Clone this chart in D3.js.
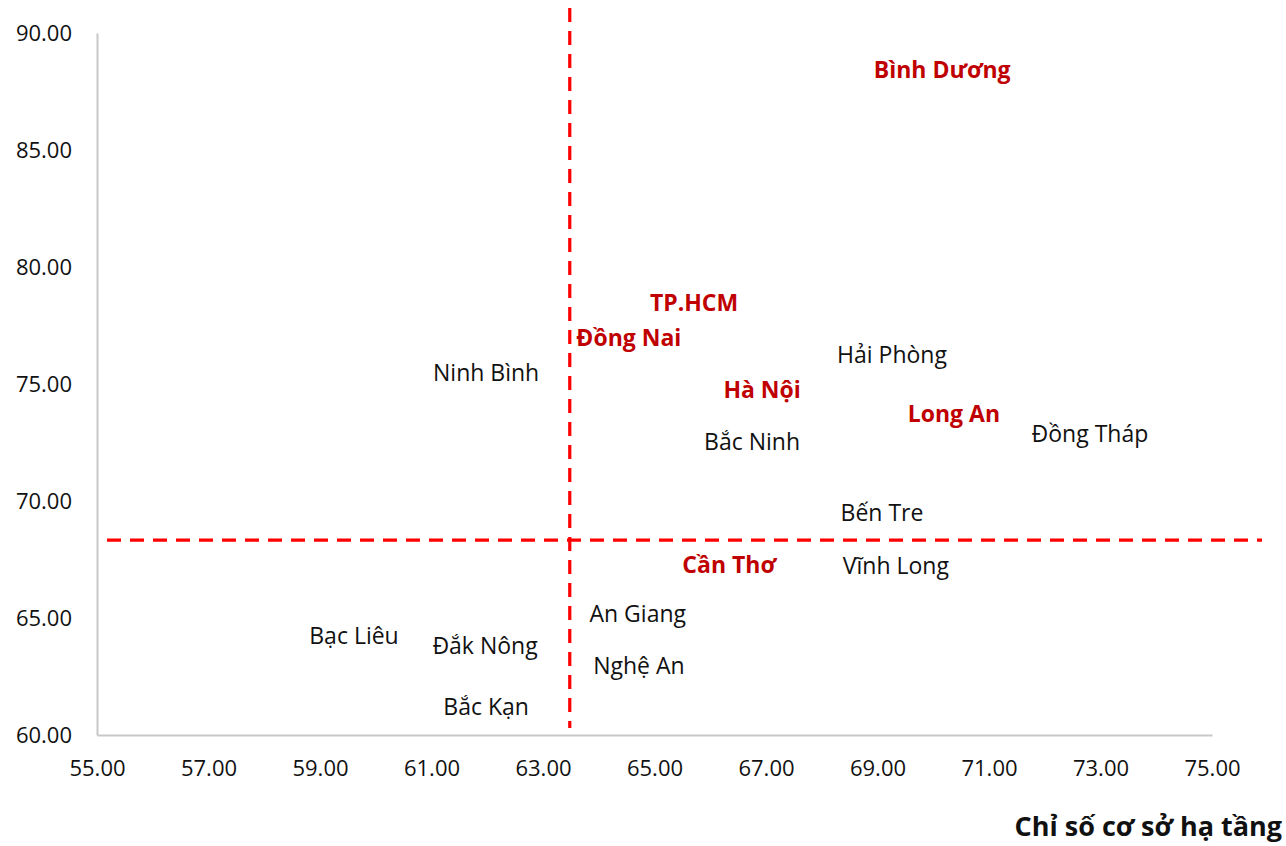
<!DOCTYPE html>
<html>
<head>
<meta charset="utf-8">
<script src="https://cdn.jsdelivr.net/npm/d3@7"></script>
<style>
  html, body { margin: 0; padding: 0; background: #fff; }
  svg { display: block; }
</style>
</head>
<body>
<svg id="chart" width="1286" height="846"></svg>
<script>
// Provinces: infrastructure index (x) vs second index (y)
const provinces = ["Bình Dương", "TP.HCM", "Đồng Nai", "Ninh Bình", "Hải Phòng", "Hà Nội",
  "Long An", "Đồng Tháp", "Bắc Ninh", "Bến Tre", "Cần Thơ", "Vĩnh Long",
  "An Giang", "Nghệ An", "Bạc Liêu", "Đắk Nông", "Bắc Kạn"];
const xValues = [70.16, 65.71, 64.54, 61.98, 69.26, 66.93,
  70.37, 72.81, 66.75, 69.08, 66.34, 69.33,
  64.70, 64.72, 59.61, 61.96, 61.98];
const yValues = [88.42, 78.46, 76.97, 75.47, 76.24, 74.74,
  73.72, 72.86, 72.52, 69.49, 67.26, 67.22,
  65.17, 62.95, 64.23, 63.80, 61.20];
const highlighted = ["Bình Dương", "TP.HCM", "Đồng Nai", "Hà Nội", "Long An", "Cần Thơ"];

// Average lines
const xAverage = 63.48;
const yAverage = 68.33;

const xTicks = [55, 57, 59, 61, 63, 65, 67, 69, 71, 73, 75];
const yTicks = [60, 65, 70, 75, 80, 85, 90];
const xTitle = "Chỉ số cơ sở hạ tầng";

const svg = d3.select("#chart");
const plotLeft = 97, plotRight = 1212, plotTop = 33, plotBottom = 735;

const x = d3.scaleLinear().domain([55, 75]).range([plotLeft, plotRight]);
const y = d3.scaleLinear().domain([60, 90]).range([plotBottom, plotTop]);

const fontFamily = "'Open Sans', 'Noto Sans', sans-serif";

// Axes
const xAxis = svg.append("g")
  .attr("transform", `translate(0,${plotBottom})`)
  .call(d3.axisBottom(x).tickValues(xTicks).tickSize(0).tickPadding(25)
    .tickFormat(d3.format(".2f")));
const yAxis = svg.append("g")
  .attr("transform", `translate(${plotLeft},0)`)
  .call(d3.axisLeft(y).tickValues(yTicks).tickSize(0).tickPadding(25)
    .tickFormat(d3.format(".2f")));

[xAxis, yAxis].forEach(a => {
  a.select(".domain").attr("stroke", "#c8c8c8").attr("stroke-width", 2);
  a.selectAll("text")
    .attr("font-family", fontFamily)
    .attr("font-size", 22)
    .attr("fill", "#111");
});

// Average dashed lines
svg.append("line")
  .attr("x1", x(xAverage)).attr("x2", x(xAverage))
  .attr("y1", 8).attr("y2", 728)
  .attr("stroke", "#ff0000").attr("stroke-width", 3.2)
  .attr("stroke-dasharray", "14 9");
svg.append("line")
  .attr("x1", 107).attr("x2", 1262)
  .attr("y1", y(yAverage)).attr("y2", y(yAverage))
  .attr("stroke", "#ff0000").attr("stroke-width", 3.2)
  .attr("stroke-dasharray", "14 9");

// Province labels placed at each data point
const data = provinces.map((name, i) => ({ name, xv: xValues[i], yv: yValues[i] }));
svg.append("g").selectAll("text")
  .data(data)
  .join("text")
  .attr("x", d => x(d.xv))
  .attr("y", d => y(d.yv))
  .attr("dy", "0.35em")
  .attr("text-anchor", "middle")
  .attr("font-family", fontFamily)
  .attr("font-size", 23)
  .attr("font-weight", d => highlighted.includes(d.name) ? 700 : 400)
  .attr("fill", d => highlighted.includes(d.name) ? "#c00000" : "#111")
  .text(d => d.name);

// X axis title
svg.append("text")
  .attr("x", 1282).attr("y", 836)
  .attr("text-anchor", "end")
  .attr("font-family", fontFamily)
  .attr("font-size", 27)
  .attr("font-weight", 700)
  .attr("fill", "#111")
  .text(xTitle);
</script>
</body>
</html>
